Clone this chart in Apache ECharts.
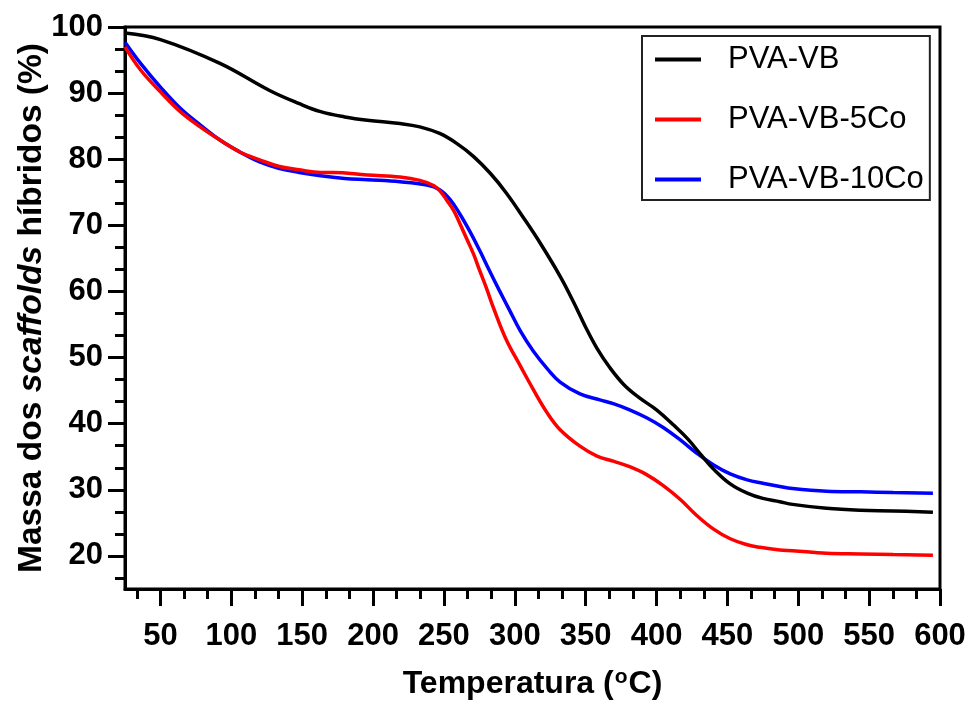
<!DOCTYPE html>
<html>
<head>
<meta charset="utf-8">
<script src="https://cdn.jsdelivr.net/npm/echarts@6/dist/echarts.min.js"></script>
<style>html,body{margin:0;padding:0;background:#fff;}#c{width:970px;height:701px;}</style>
</head>
<body>
<div id="c"></div>
<script>
// ---- data ----
var seriesNames = ['PVA-VB', 'PVA-VB-5Co', 'PVA-VB-10Co'];

var tempVB = [25, 50, 92, 127, 148, 163, 180, 196, 219, 233, 247, 259, 271, 283, 294, 306, 318, 332, 341, 350, 358, 367, 377, 388, 400, 412, 422, 431, 440, 452, 464, 475, 487, 496, 520, 544, 567, 595];
var massVB = [99.1, 98.1, 94.5, 90.4, 88.4, 87.2, 86.4, 85.9, 85.4, 84.9, 83.9, 82.4, 80.4, 77.8, 74.9, 71.2, 67.3, 62.3, 58.6, 54.6, 51.4, 48.5, 45.9, 43.9, 42.1, 39.8, 37.7, 35.4, 33.2, 30.9, 29.5, 28.7, 28.2, 27.8, 27.2, 26.9, 26.8, 26.6];

var temp5Co = [25, 36, 50, 64, 78, 92, 106, 120, 134, 148, 163, 172, 196, 219, 233, 243, 248, 252, 257, 261, 266, 271, 275, 280, 285, 294, 304, 313, 323, 332, 346, 358, 370, 381, 393, 405, 417, 428, 440, 452, 464, 473, 487, 496, 520, 544, 567, 595];
var mass5Co = [97.0, 93.5, 90.2, 87.2, 84.9, 82.9, 81.1, 79.9, 78.9, 78.4, 78.0, 78.0, 77.6, 77.3, 76.8, 76.0, 75.0, 73.8, 72.2, 70.4, 68.0, 65.6, 63.3, 60.5, 57.5, 52.7, 48.7, 45.2, 41.6, 39.1, 36.6, 35.1, 34.3, 33.5, 32.3, 30.6, 28.5, 26.2, 24.1, 22.6, 21.7, 21.3, 20.9, 20.8, 20.4, 20.3, 20.2, 20.1];

var temp10Co = [25, 36, 50, 64, 78, 92, 106, 120, 134, 148, 163, 180, 196, 219, 238, 247, 254, 261, 268, 275, 282, 289, 296, 304, 313, 323, 332, 346, 360, 370, 381, 393, 405, 417, 428, 440, 452, 464, 475, 487, 496, 520, 544, 567, 595];
var mass10Co = [97.7, 94.5, 90.9, 87.7, 85.2, 82.9, 81.1, 79.6, 78.6, 78.0, 77.5, 77.1, 76.9, 76.6, 76.1, 75.4, 74.0, 71.8, 69.2, 66.3, 63.2, 60.2, 57.3, 54.0, 51.0, 48.3, 46.3, 44.5, 43.6, 43.0, 42.1, 40.9, 39.4, 37.5, 35.6, 33.8, 32.4, 31.5, 31.0, 30.5, 30.2, 29.8, 29.7, 29.6, 29.5];

var xTickLabels = [50, 100, 150, 200, 250, 300, 350, 400, 450, 500, 550, 600];
var xMinorTicks = [33.33, 66.67, 83.33, 116.67, 133.33, 166.67, 183.33, 216.67, 233.33, 266.67, 283.33, 316.67, 333.33, 366.67, 383.33, 416.67, 433.33, 466.67, 483.33, 516.67, 533.33, 566.67, 583.33];
var yTickLabels = [20, 30, 40, 50, 60, 70, 80, 90, 100];
var yMinorTicks = [16.67, 23.33, 26.67, 33.33, 36.67, 43.33, 46.67, 53.33, 56.67, 63.33, 66.67, 73.33, 76.67, 83.33, 86.67, 93.33, 96.67];

function pairs(xs, ys) { return xs.map(function (x, i) { return [x, ys[i]]; }); }

var FONT = '"Liberation Sans", Arial, Helvetica, sans-serif';
var chart = echarts.init(document.getElementById('c'), null, { renderer: 'canvas' });

var xCommon = { type: 'value', min: 25, max: 600, splitLine: { show: false } };
var yCommon = { type: 'value', min: 15, max: 100, splitLine: { show: false } };

chart.setOption({
  animation: false,
  backgroundColor: '#fff',
  grid: { left: 125, top: 27, right: 30, bottom: 112, show: true, borderColor: '#000', borderWidth: 3,
          containLabel: false, outerBoundsMode: 'none' },
  legend: {
    orient: 'vertical',
    left: 642, top: 36,
    width: 292,
    padding: [8, 6, 5, 13],
    borderColor: '#222', borderWidth: 2,
    icon: 'rect',
    itemWidth: 46, itemHeight: 4, itemGap: 29,
    textStyle: { fontFamily: FONT, fontSize: 31, color: '#000', lineHeight: 30, padding: [0, 0, 0, 22] },
    data: seriesNames
  },
  xAxis: [
    Object.assign({}, xCommon, {
      name: 'Temperatura ({sup|o}C)',
      nameLocation: 'middle', nameGap: 78, nameMoveOverlap: false,
      nameTextStyle: { fontFamily: FONT, fontSize: 32, fontWeight: 'bold', color: '#000',
        rich: { sup: { fontFamily: FONT, fontSize: 21, fontWeight: 'bold', color: '#000', verticalAlign: 'top', padding: [0, 1, 14, 1] } } },
      axisLine: { show: true, lineStyle: { color: '#000', width: 3 } },
      axisTick: { show: true, length: 17, lineStyle: { color: '#000', width: 3 }, customValues: xTickLabels },
      axisLabel: { show: true, customValues: xTickLabels, margin: 32, fontFamily: FONT, fontSize: 31, fontWeight: 'bold', color: '#000' }
    }),
    Object.assign({}, xCommon, {
      position: 'bottom',
      axisLine: { show: false },
      axisTick: { show: true, length: 10, lineStyle: { color: '#000', width: 3 }, customValues: xMinorTicks },
      axisLabel: { show: false }
    })
  ],
  yAxis: [
    Object.assign({}, yCommon, {
      name: 'Massa dos {i|scaffolds} híbridos (%)',
      nameLocation: 'middle', nameGap: 76, nameMoveOverlap: false,
      nameTextStyle: { fontFamily: FONT, fontSize: 33.5, fontWeight: 'bold', color: '#000',
        rich: { i: { fontFamily: FONT, fontSize: 33.5, fontWeight: 'bold', fontStyle: 'italic', color: '#000' } } },
      axisLine: { show: true, lineStyle: { color: '#000', width: 3 } },
      axisTick: { show: true, length: 17, lineStyle: { color: '#000', width: 3 }, customValues: yTickLabels },
      axisLabel: { show: true, customValues: yTickLabels, margin: 22, fontFamily: FONT, fontSize: 31, fontWeight: 'bold', color: '#000' }
    }),
    Object.assign({}, yCommon, {
      position: 'left',
      axisLine: { show: false },
      axisTick: { show: true, length: 10, lineStyle: { color: '#000', width: 3 }, customValues: yMinorTicks },
      axisLabel: { show: false }
    })
  ],
  series: [
    { name: seriesNames[0], type: 'line', data: pairs(tempVB, massVB), smooth: 0.4, symbol: 'none', showSymbol: false, z: 4,
      lineStyle: { color: '#000000', width: 3.5 }, itemStyle: { color: '#000000' } },
    { name: seriesNames[1], type: 'line', data: pairs(temp5Co, mass5Co), smooth: 0.4, symbol: 'none', showSymbol: false, z: 3,
      lineStyle: { color: '#ff0000', width: 3.5 }, itemStyle: { color: '#ff0000' } },
    { name: seriesNames[2], type: 'line', data: pairs(temp10Co, mass10Co), smooth: 0.4, symbol: 'none', showSymbol: false, z: 2,
      lineStyle: { color: '#0000ff', width: 3.5 }, itemStyle: { color: '#0000ff' } }
  ]
});
</script>
</body>
</html>
